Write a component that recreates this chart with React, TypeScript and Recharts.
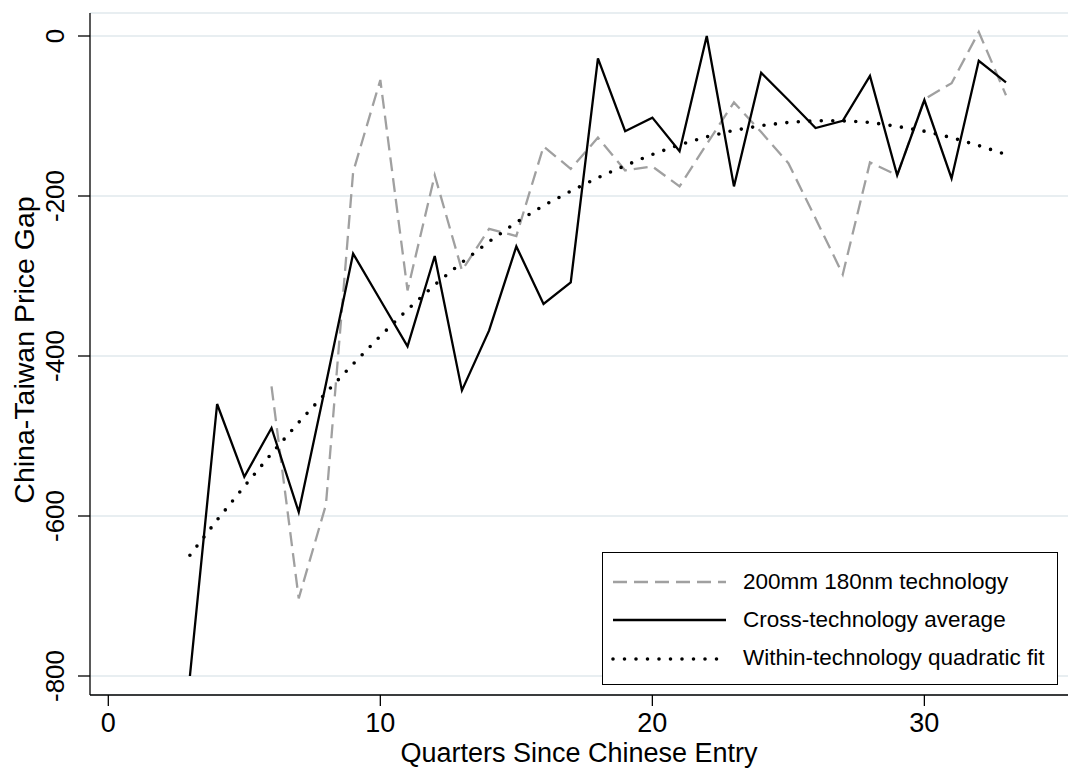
import { LineChart, Line, XAxis, YAxis, CartesianGrid } from 'recharts';

// quarters since entry (x) and the three series
const quarters = [3, 4, 5, 6, 7, 8, 9, 10, 11, 12, 13, 14, 15, 16, 17, 18, 19, 20, 21, 22, 23, 24, 25, 26, 27, 28, 29, 30, 31, 32, 33];
const tech180 = [null, null, null, -438, -703, -586, -170, -55, -318, -174, -293, -241, -250, -138, -166, -127, -168, -163, -188, -135, -83, -120, -159, -228, -298, -158, -174, -79, -59, 5, -74];
const crossAvg = [-800, -460, -551, -490, -595, -435, -272, -330, -388, -275, -443, -368, -263, -335, -308, -28, -119, -102, -144, 0, -188, -46, -80, -115, -106, -50, -174, -80, -178, -31, -58];
const quadFit = [-649, -605, -563, -522, -483, -446, -410, -375, -342, -311, -283, -257, -233, -212, -194, -177, -162, -148, -136, -126, -118, -112, -108, -106, -106, -108, -113, -119, -127, -137, -148];

const xTicks = [0, 10, 20, 30];
const yTicks = [-800, -600, -400, -200, 0];

const series = [
  { key: 'tech180', name: '200mm 180nm technology', color: '#a0a0a0', width: 2.3, dash: '14 7', cap: 'butt' },
  { key: 'crossAvg', name: 'Cross-technology average', color: '#000000', width: 2.3, dash: undefined, cap: 'butt' },
  { key: 'quadFit', name: 'Within-technology quadratic fit', color: '#000000', width: 3.6, dash: '0 11.5', cap: 'round' },
];

const data = quarters.map((q, i) => ({
  q,
  tech180: tech180[i],
  crossAvg: crossAvg[i],
  quadFit: quadFit[i],
}));

const FONT = '"Liberation Sans", Arial, sans-serif';

const XTick = ({ x, payload }: any) => (
  <text x={x} y={732} textAnchor="middle" fontSize={27} fontFamily={FONT} fill="#000">
    {payload.value}
  </text>
);

const YTick = ({ y, payload }: any) => (
  <text
    x={64}
    y={y}
    transform={`rotate(-90 64 ${y})`}
    textAnchor="middle"
    fontSize={26}
    fontFamily={FONT}
    fill="#000"
  >
    {payload.value}
  </text>
);

// legend box drawn over the plot, bottom right
function LegendBox() {
  return (
    <div
      style={{
        position: 'absolute',
        left: 602,
        top: 552,
        border: '1.5px solid #000',
        background: '#fff',
        width: 456,
        height: 133,
        boxSizing: 'border-box',
        paddingTop: 10,
        fontFamily: FONT,
        fontSize: 22.5,
        lineHeight: 1,
      }}
    >
      {series.map((s) => (
        <div key={s.key} style={{ display: 'flex', alignItems: 'center', height: 38.3 }}>
          <svg width={125} height={20} style={{ marginLeft: 8, display: 'block' }}>
            <line
              x1={2}
              y1={10}
              x2={115}
              y2={10}
              stroke={s.color}
              strokeWidth={s.width}
              strokeDasharray={s.dash}
              strokeLinecap={s.cap as any}
            />
          </svg>
          <span style={{ marginLeft: 7 }}>{s.name}</span>
        </div>
      ))}
    </div>
  );
}

export default function App() {
  return (
    <div style={{ position: 'absolute', left: 0, top: 0, width: 1068, height: 769, background: '#fff' }}>
      <LineChart width={1068} height={769} data={data} margin={{ top: 13, right: 0, left: 0, bottom: 0 }}>
        <CartesianGrid horizontal vertical={false} stroke="#e8eef1" strokeWidth={2} />
        <XAxis
          dataKey="q"
          type="number"
          domain={[-0.673, 35.28]}
          ticks={xTicks}
          allowDataOverflow
          height={74}
          stroke="#000"
          strokeWidth={1.3}
          tickSize={11}
          tick={<XTick />}
        />
        <YAxis
          type="number"
          domain={[-823.75, 28.75]}
          ticks={yTicks}
          allowDataOverflow
          width={90}
          stroke="#000"
          strokeWidth={1.3}
          tickSize={12}
          tick={<YTick />}
        />
        <text x={34} y={350} transform="rotate(-90 34 350)" textAnchor="middle" fontSize={28.5} fontFamily={FONT} fill="#000">
          China-Taiwan Price Gap
        </text>
        <text x={579} y={762} textAnchor="middle" fontSize={27} fontFamily={FONT} fill="#000">
          Quarters Since Chinese Entry
        </text>
        {series.map((s) => (
          <Line
            key={s.key}
            dataKey={s.key}
            name={s.name}
            type="linear"
            stroke={s.color}
            strokeWidth={s.width}
            strokeDasharray={s.dash}
            strokeLinecap={s.cap as any}
            dot={false}
            activeDot={false}
            isAnimationActive={false}
          />
        ))}
      </LineChart>
      <LegendBox />
    </div>
  );
}
